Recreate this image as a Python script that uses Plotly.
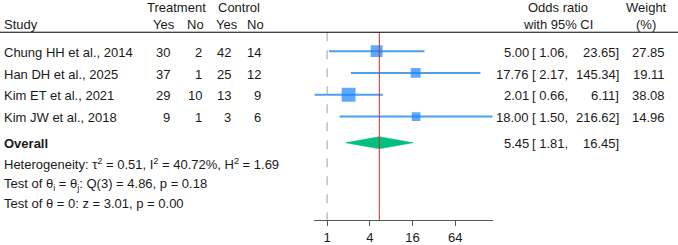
import plotly.graph_objects as go
import math

# ---------------- data ----------------
studies = ["Chung HH et al., 2014", "Han DH et al., 2025", "Kim ET et al., 2021", "Kim JW et al., 2018"]
treat_yes = [30, 37, 29, 9]
treat_no = [2, 1, 10, 1]
ctrl_yes = [42, 25, 13, 3]
ctrl_no = [14, 12, 9, 6]
odds_ratio = [5.00, 17.76, 2.01, 18.00]
ci_low = [1.06, 2.17, 0.66, 1.50]
ci_high = [23.65, 145.34, 6.11, 216.62]
weight = [27.85, 19.11, 38.08, 14.96]
overall_or = 5.45
overall_low = 1.81
overall_high = 16.45
tick_vals = [1, 4, 16, 64]
tick_labels = ["1", "4", "16", "64"]
het_text = "Heterogeneity: τ<sup>2</sup> = 0.51, I<sup>2</sup> = 40.72%, H<sup>2</sup> = 1.69"
test1_text = "Test of θ<sub>i</sub> = θ<sub>j</sub>: Q(3) = 4.86, p = 0.18"
test2_text = "Test of θ = 0: z = 3.01, p = 0.00"

# ---------------- layout helpers ----------------
W, H = 678, 245
FONT = "Liberation Sans, Arial, Helvetica, sans-serif"
FS = 13
TXT = "#1a1a1a"
BLUE = "#1a85ff"
BLUE_LINE = "#4f9ef5"
GREEN = "#00bf7f"
RED = "#d42a2a"

row_y = [52.3, 74.6, 96.9, 119.2]
y_overall = 146
y_het, y_t1, y_t2 = 167, 187, 207
y_h1, y_h2 = 6.5, 23.5
y_rule = 33
plot_bottom = 225
TY = 1.2  # text baseline nudge

ax_left_px, ax_right_px = 314.3, 492.7

fig = go.Figure()

# CI lines
xs, ys = [], []
for lo, hi, y in zip(ci_low, ci_high, row_y):
    xs += [lo, hi, None]
    ys += [y, y, None]
fig.add_trace(go.Scatter(x=xs, y=ys, mode="lines", line=dict(color=BLUE_LINE, width=2),
                         hoverinfo="skip", showlegend=False))
# squares
fig.add_trace(go.Scatter(x=odds_ratio, y=row_y, mode="markers",
                         marker=dict(symbol="square", color=BLUE,
                                     size=[2.25 * math.sqrt(w) for w in weight], line=dict(width=0)),
                         showlegend=False))
# diamond
dh = 6.2
fig.add_trace(go.Scatter(x=[overall_low, overall_or, overall_high, overall_or, overall_low],
                         y=[y_overall, y_overall - dh, y_overall, y_overall + dh, y_overall],
                         mode="lines", fill="toself", fillcolor=GREEN, line=dict(color=GREEN, width=0.5),
                         showlegend=False, hoverinfo="skip"))
# reference lines
fig.add_trace(go.Scatter(x=[1, 1], y=[y_rule, plot_bottom], mode="lines",
                         line=dict(color="#a0a0a0", width=1, dash="dash"), showlegend=False))
fig.add_trace(go.Scatter(x=[overall_or, overall_or], y=[y_rule, plot_bottom], mode="lines",
                         line=dict(color=RED, width=1), showlegend=False))

ann = []
def T(x, y, text, anchor="left", bold=False):
    ann.append(dict(x=x / W, y=y + TY, xref="paper", yref="y", text=("<b>%s</b>" % text) if bold else text,
                    showarrow=False, xanchor=anchor, yanchor="middle", borderpad=0,
                    font=dict(family=FONT, size=FS, color=TXT)))

# headers
T(3, y_h2, "Study")
T(176.5, y_h1, "Treatment", "center")
T(239, y_h1, "Control", "center")
T(164, y_h2, "Yes", "center")
T(195.5, y_h2, "No", "center")
T(227, y_h2, "Yes", "center")
T(255.5, y_h2, "No", "center")
T(558, y_h1, "Odds ratio", "center")
T(558, y_h2, "with 95% CI", "center")
T(646, y_h1, "Weight", "center")
T(646, y_h2, "(%)", "center")

for i, y in enumerate(row_y):
    T(3, y, studies[i])
    T(171, y, str(treat_yes[i]), "right")
    T(203, y, str(treat_no[i]), "right")
    T(232, y, str(ctrl_yes[i]), "right")
    T(262, y, str(ctrl_no[i]), "right")
    T(530, y, "%.2f" % odds_ratio[i], "right")
    T(531, y, "[ %.2f," % ci_low[i], "left")
    T(620, y, "%.2f]" % ci_high[i], "right")
    T(666, y, "%.2f" % weight[i], "right")

T(3, y_overall, "Overall", bold=True)
T(530, y_overall, "%.2f" % overall_or, "right")
T(531, y_overall, "[ %.2f," % overall_low, "left")
T(620, y_overall, "%.2f]" % overall_high, "right")
T(3, y_het, het_text)
T(3, y_t1, test1_text)
T(3, y_t2, test2_text)

fig.update_layout(
    width=W, height=H, margin=dict(l=0, r=0, t=0, b=H - plot_bottom),
    paper_bgcolor="white", plot_bgcolor="white",
    annotations=ann,
    shapes=[dict(type="line", xref="paper", yref="y", x0=0, x1=1, y0=y_rule, y1=y_rule,
                 line=dict(color="black", width=1.2))],
    xaxis=dict(type="log", domain=[ax_left_px / W, ax_right_px / W],
               range=[math.log10(min(ci_low)), math.log10(max(ci_high))],
               tickvals=tick_vals, ticktext=tick_labels, ticks="outside", ticklen=5,
               tickcolor="#555", showline=True, linecolor="#555", linewidth=1,
               showgrid=False, zeroline=False,
               tickfont=dict(family=FONT, size=FS, color=TXT)),
    yaxis=dict(range=[plot_bottom, 0], visible=False, showgrid=False, zeroline=False),
)

fig.write_html("out.html")
